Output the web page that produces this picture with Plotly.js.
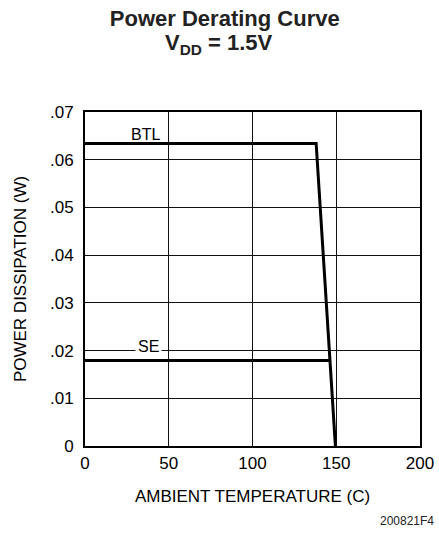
<!DOCTYPE html>
<html>
<head>
<meta charset="utf-8">
<script src="https://cdn.plot.ly/plotly-3.0.1.min.js"></script>
<style>html,body{margin:0;padding:0;background:#fff;}#chart{width:439px;height:533px;}</style>
</head>
<body>
<div id="chart"></div>
<script>
// Data
const btlTemp = [0, 138, 149.5];
const btlPower = [0.0634, 0.0634, 0];
const seTemp = [0, 146];
const sePower = [0.0179, 0.0179];
const xTickVals = [0, 50, 100, 150, 200];
const yTickVals = [0, 0.01, 0.02, 0.03, 0.04, 0.05, 0.06, 0.07];
const yTickText = ['0', '.01', '.02', '.03', '.04', '.05', '.06', '.07'];
const seriesLabels = ['BTL', 'SE'];

const FONT = 'Liberation Sans, Arial, Helvetica, sans-serif';

const traces = [
  {x: btlTemp, y: btlPower, name: seriesLabels[0], mode: 'lines',
   line: {color: '#000', width: 3}, hoverinfo: 'skip'},
  {x: seTemp, y: sePower, name: seriesLabels[1], mode: 'lines',
   line: {color: '#000', width: 3}, hoverinfo: 'skip'}
];

const layout = {
  width: 439, height: 533,
  margin: {l: 85, r: 19, t: 112, b: 87},
  paper_bgcolor: '#fff', plot_bgcolor: '#fff',
  showlegend: false,
  font: {family: FONT, color: '#000', size: 17},
  title: {
    text: '<b>Power Derating Curve</b>',
    font: {family: FONT, size: 22, color: '#222'},
    x: 0.512, xanchor: 'center', y: 0.966, yanchor: 'middle', yref: 'container'
  },
  xaxis: {
    range: [0, 200], tickvals: xTickVals,
    showgrid: true, gridcolor: '#111', gridwidth: 1.2,
    showline: true, linecolor: '#000', linewidth: 2, mirror: true,
    zeroline: false, ticks: 'outside', ticklen: 1, tickcolor: 'rgba(0,0,0,0)',
    tickfont: {family: FONT, size: 17, color: '#000'},
    title: {text: 'AMBIENT TEMPERATURE (C)', font: {family: FONT, size: 17, color: '#000'}, standoff: 18},
    fixedrange: true
  },
  yaxis: {
    range: [0, 0.07], tickvals: yTickVals, ticktext: yTickText,
    showgrid: true, gridcolor: '#111', gridwidth: 1.2,
    showline: true, linecolor: '#000', linewidth: 2, mirror: true,
    zeroline: false, ticks: 'outside', ticklen: 6, tickcolor: 'rgba(0,0,0,0)',
    tickfont: {family: FONT, size: 17, color: '#000'},
    title: {text: 'POWER DISSIPATION (W)', font: {family: FONT, size: 17, color: '#000'}, standoff: 19},
    fixedrange: true
  },
  annotations: [
    {text: '<b>V<sub>DD</sub> = 1.5V</b>', xref: 'paper', yref: 'paper',
     x: 0.4, y: 1.204, xanchor: 'center', yanchor: 'middle', showarrow: false,
     font: {family: FONT, size: 22, color: '#222'}},
    {text: seriesLabels[0], xref: 'x', yref: 'y', x: 45.8, y: 0.0653,
     xanchor: 'right', yanchor: 'middle', showarrow: false,
     font: {family: FONT, size: 16, color: '#000'}},
    {text: seriesLabels[1], xref: 'x', yref: 'y', x: 46, y: 0.0209,
     xanchor: 'right', yanchor: 'middle', showarrow: false, bgcolor: '#fff', borderpad: 2,
     font: {family: FONT, size: 16, color: '#000'}},
    {text: '200821F4', xref: 'paper', yref: 'paper', x: 1.048, y: -0.2254,
     xanchor: 'right', yanchor: 'middle', showarrow: false,
     font: {family: FONT, size: 12, color: '#222'}}
  ]
};

Plotly.newPlot('chart', traces, layout, {displayModeBar: false, staticPlot: true});
</script>
</body>
</html>
